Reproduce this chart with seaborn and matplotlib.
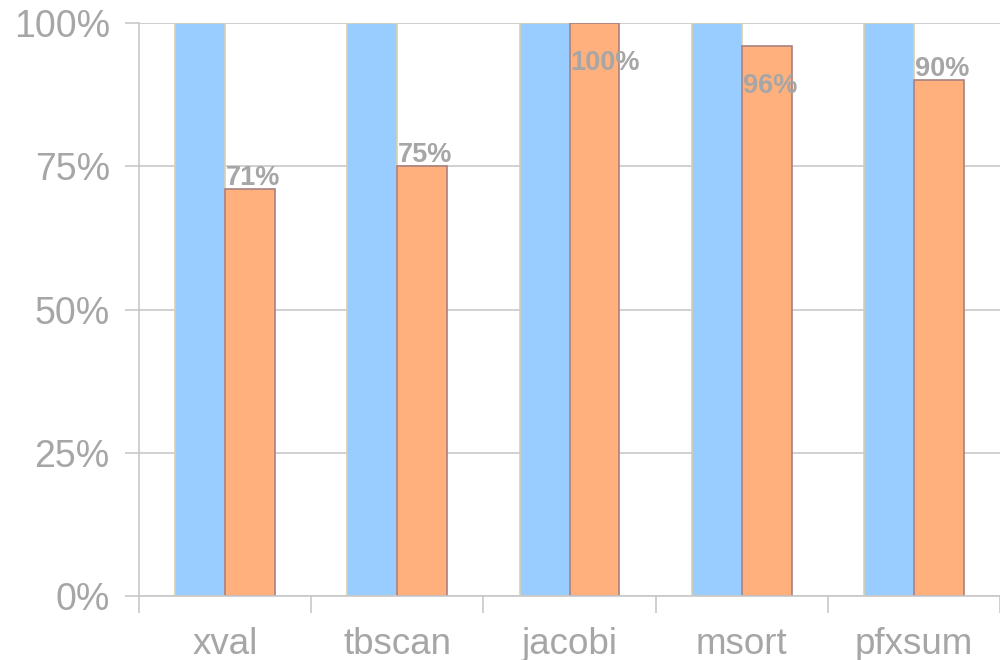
import pandas as pd
import numpy as np
import matplotlib.pyplot as plt
import seaborn as sns
from matplotlib.ticker import FixedLocator, PercentFormatter

# ── data ─────────────────────────────────────────────
benchmarks = ['xval', 'tbscan', 'jacobi', 'msort', 'pfxsum']
baseline = [100, 100, 100, 100, 100]
measured = [71, 75, 100, 96, 90]

df = pd.DataFrame({
    'bench': benchmarks * 2,
    'series': ['baseline'] * len(benchmarks) + ['measured'] * len(benchmarks),
    'value': baseline + measured,
})

# ── style ────────────────────────────────────────────
sns.set_style('white')
plt.rcParams['font.family'] = ['Liberation Sans', 'DejaVu Sans']
grey = '#a6a6a6'
line_grey = '#c8c8c8'

fig = plt.figure(figsize=(10, 6.6), dpi=100)
ax = fig.add_axes([0.139, 0.097, 0.861, 0.868])

palette = {'baseline': '#99ccff', 'measured': '#ffb07c'}
sns.barplot(data=df, x='bench', y='value', hue='series', order=benchmarks,
            palette=palette, width=0.58, saturation=1, legend=False, ax=ax)

# bar edges like the original
for bar, col in zip(ax.patches, ['#d8d0b0'] * 5 + ['#a88080'] * 5):
    bar.set_edgecolor(col)
    bar.set_linewidth(1.2)

ax.set_ylim(0, 100)
ax.set_xlim(-0.5, 4.5)
ax.set_yticks([0, 25, 50, 75, 100])
ax.yaxis.set_major_formatter(PercentFormatter(decimals=0))
ax.yaxis.grid(True, color=line_grey, linewidth=1.2)
ax.set_axisbelow(True)

# category ticks sit between groups
ax.xaxis.set_minor_locator(FixedLocator(np.arange(-0.5, 5, 1)))
ax.tick_params(axis='x', which='major', bottom=True, length=0, pad=22,
               labelsize=26.5, labelcolor=grey)
ax.tick_params(axis='x', which='minor', bottom=True, length=12, width=1.2,
               color=line_grey, direction='out')
ax.tick_params(axis='y', left=True, length=10, width=1.2, color=line_grey,
               direction='out', labelsize=27, labelcolor=grey, pad=11)
ax.set_xlabel('')
ax.set_ylabel('')

for side in ['top', 'right']:
    ax.spines[side].set_visible(False)
for side in ['left', 'bottom']:
    ax.spines[side].set_color(line_grey)
    ax.spines[side].set_linewidth(1.2)

# value labels on the measured bars
for i, v in enumerate(measured):
    y = v - 7 if v > 92 else v + 2
    ax.text(i + 0.005, y, f'{v}%', ha='left', va='center', fontsize=19.5,
            fontweight='bold', color=grey)

plt.savefig('out.png', dpi=100)
